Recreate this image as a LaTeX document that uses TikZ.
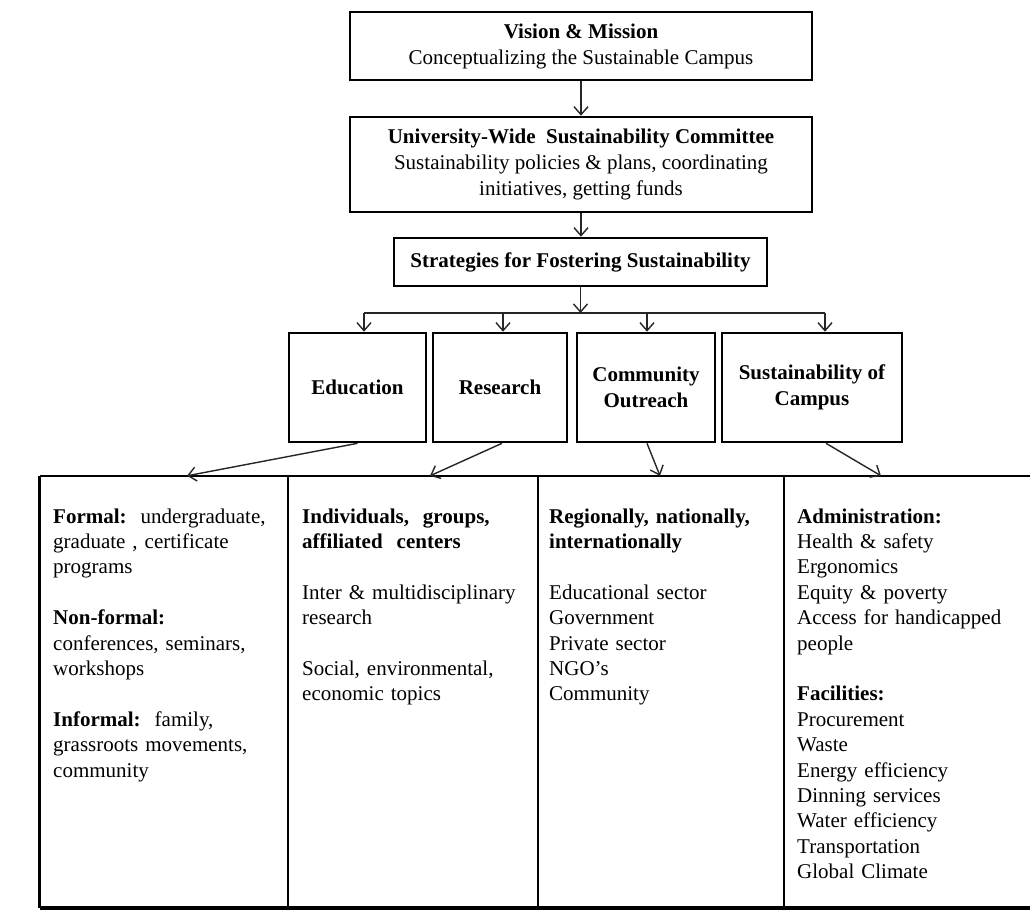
\documentclass[tikz,border=0pt]{standalone}
\usepackage{fontspec}
\setmainfont{Liberation Serif}
\usetikzlibrary{arrows.meta}

\begin{document}
\begin{tikzpicture}[x=1pt,y=-1pt,
  box/.style={draw, line width=2.6pt, inner sep=0pt, align=center,
    font=\fontsize{21}{26}\selectfont},
  catbox/.style={box, font=\fontsize{21}{26}\selectfont\bfseries},
  wire/.style={draw=black!85, line width=1.4pt},
  link/.style={wire, -{Straight Barb[length=8pt,width=14pt,line width=1.4pt]}},
  cell/.style={inner sep=0pt, minimum height=432pt},
  body/.style={anchor=base west, inner sep=0pt, text width=232pt, align=left,
    font=\fontsize{21}{25.4}\selectfont},
]
\useasboundingbox[fill=white] (0,0) rectangle (1030,919);

% top chain
\node[box, minimum width=462pt, minimum height=68pt] (vision) at (581,46)
  {\textbf{Vision \& Mission}\\Conceptualizing the Sustainable Campus};
\node[box, minimum width=462pt, minimum height=95pt] (committee) at (581,164.5)
  {\textbf{University-Wide\ \ Sustainability Committee}\\Sustainability policies \& plans, coordinating\\initiatives, getting funds};
\node[catbox, minimum width=373pt, minimum height=48pt] (strat) at (580.5,262)
  {Strategies for Fostering Sustainability};

\draw[link] (vision) -- (committee);
\draw[link] (committee) -- (committee.south |- strat.north);

% four areas
\node[catbox, minimum width=137pt, minimum height=109pt] (edu) at (357.5,387.5) {Education};
\node[catbox, minimum width=134pt, minimum height=109pt] (res) at (500,387.5) {Research};
\node[catbox, minimum width=138pt, minimum height=109pt] (com) at (646,387.5) {Community\\Outreach};
\node[catbox, minimum width=180pt, minimum height=109pt] (sus) at (812,387.5) {Sustainability of\\Campus};

\coordinate (hub) at (580.5,313);
\coordinate (eduin) at ([xshift=6.5pt]edu.north);
\coordinate (resin) at ([xshift=3pt]res.north);
\coordinate (comin) at ([xshift=1pt]com.north);
\coordinate (susin) at ([xshift=13pt]sus.north);

\draw[link] (strat.south -| hub) -- (hub);
\draw[wire] (eduin |- hub) -- (susin |- hub);
\draw[link] (eduin |- hub) -- (eduin);
\draw[link] (resin |- hub) -- (resin);
\draw[link] (comin |- hub) -- (comin);
\draw[link] (susin |- hub) -- (susin);

% table of details
\node[cell, minimum width=248pt] (c1) at (164,692) {};
\node[cell, minimum width=250pt] (c2) at (413,692) {};
\node[cell, minimum width=246pt] (c3) at (661,692) {};
\node[cell, minimum width=246pt] (c4) at (907,692) {};

\draw[line width=2.2pt] (c4.north east) -- (c1.north west);
\draw[line width=3pt] (c1.north west) -- (c1.south west);
\draw[line width=3.6pt] (c1.south west) -- (c4.south east);
\draw[line width=2.4pt] (c1.north east) -- (c1.south east);
\draw[line width=2.4pt] (c2.north east) -- (c2.south east);
\draw[line width=2.4pt] (c3.north east) -- (c3.south east);

\coordinate (eduout) at ([xshift=23pt]c1.north);
\coordinate (resout) at ([xshift=17pt]c2.north);
\coordinate (comout) at ([xshift=-1pt]c3.north);
\coordinate (susout) at ([xshift=-26pt]c4.north);

\draw[link] (edu.south) -- (eduout);
\draw[link] ([xshift=2pt]res.south) -- (resout);
\draw[link] ([xshift=1pt]com.south) -- (comout);
\draw[link] ([xshift=14pt]sus.south) -- (susout);

\node[body] (edutxt) at (53,523)
  {\textbf{Formal:}\ \ undergraduate,\\ graduate , certificate\\ programs\\[25.4pt]
   \textbf{Non-formal:}\\ conferences, seminars,\\ workshops\\[25.4pt]
   \textbf{Informal:}\ \ family,\\ grassroots movements,\\ community};
\node[body] (restxt) at (302,523)
  {\textbf{Individuals,\ \ groups,}\\ \textbf{affiliated\ \ centers}\\[25.4pt]
   Inter \& multidisciplinary\\ research\\[25.4pt]
   Social, environmental,\\ economic topics};
\node[body] (comtxt) at (549,523)
  {\textbf{Regionally, nationally,}\\ \textbf{internationally}\\[25.4pt]
   Educational sector\\ Government\\ Private sector\\ NGO's\\ Community};
\node[body] (sustxt) at (797,523)
  {\textbf{Administration:}\\ Health \& safety\\ Ergonomics\\ Equity \& poverty\\ Access for handicapped\\ people\\[25.4pt]
   \textbf{Facilities:}\\ Procurement\\ Waste\\ Energy efficiency\\ Dinning services\\ Water efficiency\\ Transportation\\ Global Climate};
\end{tikzpicture}
\end{document}
